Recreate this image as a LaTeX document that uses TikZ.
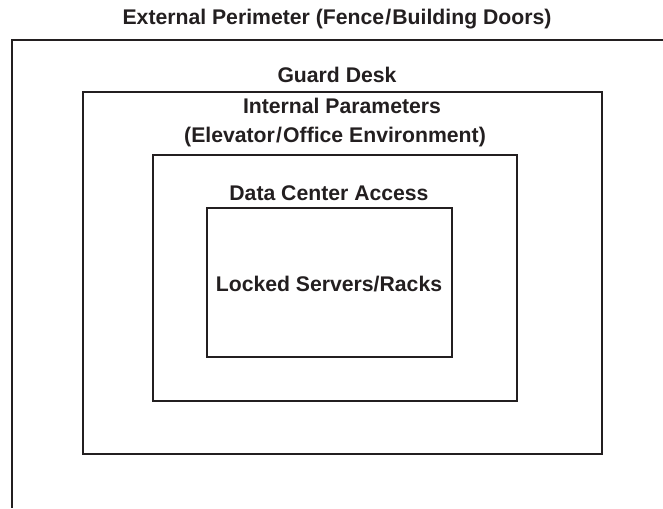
\documentclass[tikz,border=0pt]{standalone}
\usepackage{fontspec}
\setmainfont{Liberation Sans}
\definecolor{ink}{HTML}{231F20}
\newcommand{\sslash}{\kern1.2pt/\kern1.2pt}
\begin{document}
\begin{tikzpicture}[x=1pt,y=-1pt,
  frame/.style={draw=ink, line width=2pt},
  lbl/.style={font=\fontsize{21.2}{24}\selectfont\bfseries, text=ink, inner sep=0pt}]
\useasboundingbox (0,0) rectangle (663,508);
% outer perimeter: open frame along top and left
\coordinate (pTR) at (663,40);
\coordinate (pTL) at (12,40);
\coordinate (pBL) at (12,508);
\draw[frame] (pTR) -- (pTL) -- (pBL);
\node[lbl] (ext) at (337,19) {External Perimeter (Fence\sslash Building Doors)};
% guard desk zone
\draw[frame] (83,92) rectangle (602,454);
\node[lbl] (guard) at (337,75) {Guard Desk};
% internal zone
\draw[frame] (153,155) rectangle (517,401);
\node[lbl] (int1) at (342,106) {Internal Parameters};
\node[lbl] (int2) at (335,137) {(Elevator\sslash Office Environment)};
% data center
\draw[frame] (207,208) rectangle (452,357);
\node[lbl] (dc) at (329,193) {Data Center Access};
\node[lbl] (srv) at (329,284) {Locked Servers/Racks};
\end{tikzpicture}
\end{document}
